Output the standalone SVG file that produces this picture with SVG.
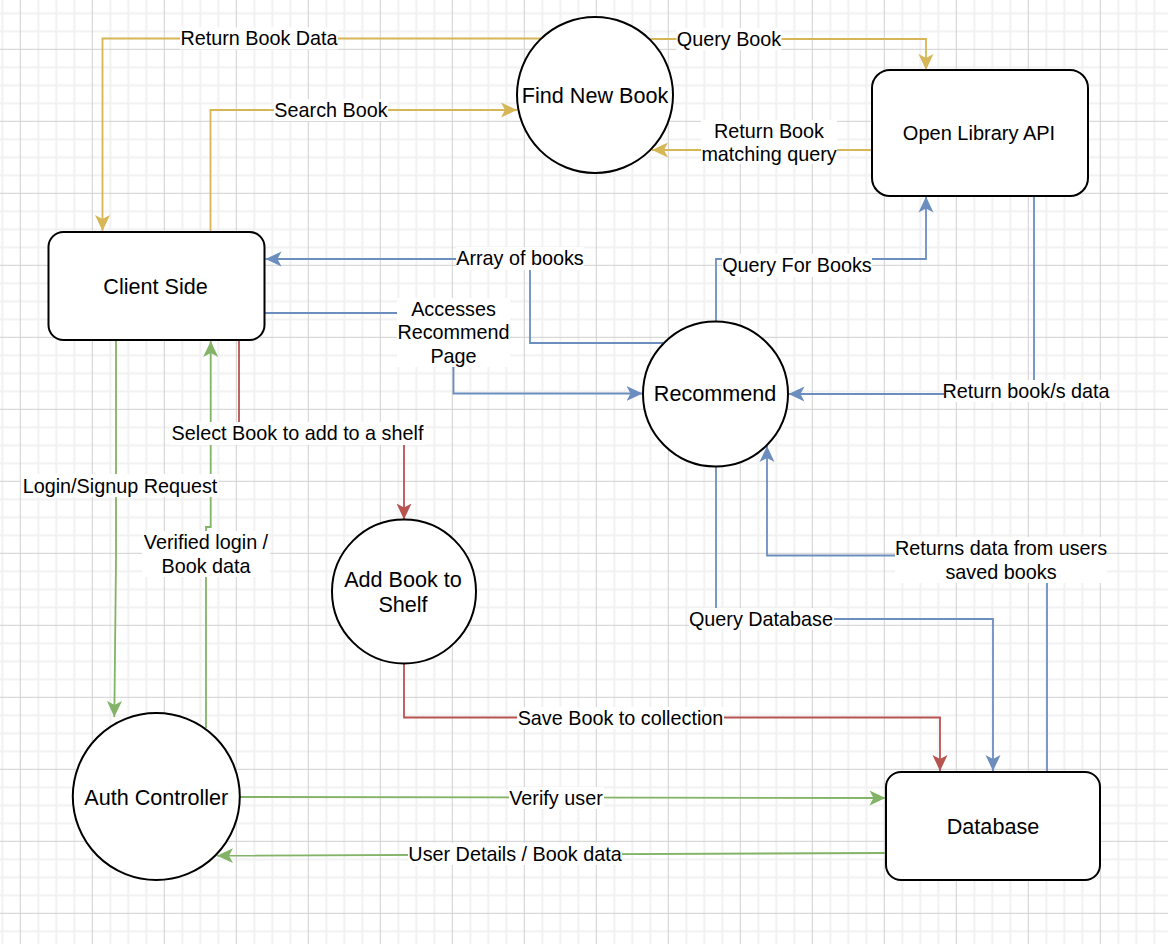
<svg xmlns="http://www.w3.org/2000/svg" width="1168" height="944" viewBox="0 0 1168 944">
<style>
.node{fill:#ffffff;stroke:#000000;stroke-width:2}
.nt{font-family:"Liberation Sans",Arial,Helvetica,sans-serif;font-size:21.6px;fill:#000000;text-anchor:middle}
.lt{font-family:"Liberation Sans",Arial,Helvetica,sans-serif;font-size:19.8px;fill:#000000;text-anchor:middle}
.bg{fill:#ffffff}
.e{fill:none;stroke-width:1.8}
.y{stroke:#d6b656}
.b{stroke:#6c8ebf}
.r{stroke:#b85450}
.g{stroke:#82b366}
</style>
<defs>
<pattern id="grid" patternUnits="userSpaceOnUse" x="19.8" y="48.8" width="72" height="72">
<rect width="72" height="72" fill="#ffffff"/>
<path d="M18.5 0V72M36.5 0V72M54.5 0V72M0 18.5H72M0 36.5H72M0 54.5H72" stroke="#f1f1f1" stroke-width="2" fill="none"/>
<path d="M0.5 0V72M0 0.5H72" stroke="#d0d0d0" stroke-width="1" fill="none"/>
</pattern>
<marker id="ay" markerUnits="userSpaceOnUse" markerWidth="17" markerHeight="16" refX="16" refY="8" orient="auto"><path d="M0,0.5 L16,8 L0,15.5 L4,8 Z" fill="#d6b656"/></marker>
<marker id="ab" markerUnits="userSpaceOnUse" markerWidth="17" markerHeight="16" refX="16" refY="8" orient="auto"><path d="M0,0.5 L16,8 L0,15.5 L4,8 Z" fill="#6c8ebf"/></marker>
<marker id="ar" markerUnits="userSpaceOnUse" markerWidth="17" markerHeight="16" refX="16" refY="8" orient="auto"><path d="M0,0.5 L16,8 L0,15.5 L4,8 Z" fill="#b85450"/></marker>
<marker id="ag" markerUnits="userSpaceOnUse" markerWidth="17" markerHeight="16" refX="16" refY="8" orient="auto"><path d="M0,0.5 L16,8 L0,15.5 L4,8 Z" fill="#82b366"/></marker>
</defs>
<rect width="1168" height="944" fill="url(#grid)"/>

<g id="connectors">
<path class="e y" d="M542 38.5 H102.5 V231" marker-end="url(#ay)"/>
<path class="e y" d="M210.5 232 V110 H517" marker-end="url(#ay)"/>
<path class="e y" d="M649 39 H926 V70" marker-end="url(#ay)"/>
<path class="e y" d="M872 133 V150 H652" marker-end="url(#ay)"/>
<path class="e b" d="M663 343 H530 V259 H265.5" marker-end="url(#ab)"/>
<path class="e b" d="M265 313 H453.5 V393.5 H642.5" marker-end="url(#ab)"/>
<path class="e b" d="M716 322 V259 H926 V196.5" marker-end="url(#ab)"/>
<path class="e b" d="M1034 196 V394 H788.5" marker-end="url(#ab)"/>
<path class="e b" d="M716 466 V619 H993 V771" marker-end="url(#ab)"/>
<path class="e b" d="M1047 772 V555.5 H767 V446" marker-end="url(#ab)"/>
<path class="e r" d="M239 340 V433 H404 V519.5" marker-end="url(#ar)"/>
<path class="e r" d="M404 663 V717.5 H940 V771" marker-end="url(#ar)"/>
<path class="e g" d="M103 340 H116 V560 L114.3 717" marker-end="url(#ag)"/>
<path class="e g" d="M206 728 V527 H210.7 V341" marker-end="url(#ag)"/>
<path class="e g" d="M240 797 L885.5 798" marker-end="url(#ag)"/>
<path class="e g" d="M886 853 L217 855.7" marker-end="url(#ag)"/>

<g id="edge-labels">
<rect class="bg" x="180" y="27.5" width="158" height="22"/>
<text class="lt" x="259" y="45">Return Book Data</text>
<rect class="bg" x="274" y="99" width="114" height="22"/>
<text class="lt" x="331" y="117">Search Book</text>
<rect class="bg" x="676.5" y="28" width="105" height="22"/>
<text class="lt" x="729" y="46">Query Book</text>
<rect class="bg" x="701" y="120" width="136" height="44"/>
<text class="lt" x="769" y="137.5">Return Book</text>
<text class="lt" x="769" y="161">matching query</text>
<rect class="bg" x="456" y="247" width="128" height="23"/>
<text class="lt" x="520" y="265">Array of books</text>
<rect class="bg" x="397" y="298" width="113" height="69"/>
<text class="lt" x="453.5" y="316">Accesses</text>
<text class="lt" x="453.5" y="339">Recommend</text>
<text class="lt" x="453.5" y="362.5">Page</text>
<rect class="bg" x="722" y="254" width="150" height="23"/>
<text class="lt" x="797" y="272">Query For Books</text>
<rect class="bg" x="944" y="380" width="164" height="22"/>
<text class="lt" x="1026" y="398">Return book/s data</text>
<rect class="bg" x="895" y="537" width="212" height="46"/>
<text class="lt" x="1001" y="554.5">Returns data from users</text>
<text class="lt" x="1001" y="578.5">saved books</text>
<rect class="bg" x="689" y="608" width="145" height="22"/>
<text class="lt" x="761" y="626">Query Database</text>
<rect class="bg" x="170" y="422" width="255" height="23"/>
<text class="lt" x="297.5" y="440">Select Book to add to a shelf</text>
<rect class="bg" x="517" y="707" width="207" height="22"/>
<text class="lt" x="620.5" y="725">Save Book to collection</text>
<rect class="bg" x="21" y="474" width="198" height="23"/>
<text class="lt" x="120" y="492.5">Login/Signup Request</text>
<rect class="bg" x="142" y="531" width="128" height="46"/>
<text class="lt" x="206" y="549">Verified login /</text>
<text class="lt" x="206" y="572.5">Book data</text>
<rect class="bg" x="509" y="787" width="95" height="22"/>
<text class="lt" x="556" y="805">Verify user</text>
<rect class="bg" x="408" y="843" width="214" height="22"/>
<text class="lt" x="515" y="861">User Details / Book data</text>
</g>
</g>

<g id="find-new-book">
<circle class="node" cx="595" cy="95" r="78"/>
<text class="nt" x="595" y="102.5">Find New Book</text>
</g>
<g id="open-library-api">
<rect class="node" x="872" y="70" width="216" height="126" rx="18" ry="18"/>
<text class="nt" x="979" y="140" style="font-size:20px">Open Library API</text>
</g>
<g id="client-side">
<rect class="node" x="48.5" y="232" width="216" height="108" rx="15" ry="15"/>
<text class="nt" x="155.5" y="293.5">Client Side</text>
</g>
<g id="recommend">
<circle class="node" cx="715.5" cy="394" r="72.5"/>
<text class="nt" x="715" y="401">Recommend</text>
</g>
<g id="add-book-to-shelf">
<circle class="node" cx="404" cy="591.5" r="72"/>
<text class="nt" x="403" y="586.5">Add Book to</text>
<text class="nt" x="403" y="612">Shelf</text>
</g>
<g id="auth-controller">
<circle class="node" cx="156.3" cy="796.5" r="83.5"/>
<text class="nt" x="156.3" y="804.5">Auth Controller</text>
</g>
<g id="database">
<rect class="node" x="886" y="772" width="214" height="108" rx="15" ry="15"/>
<text class="nt" x="993" y="833.5">Database</text>
</g>
</svg>
